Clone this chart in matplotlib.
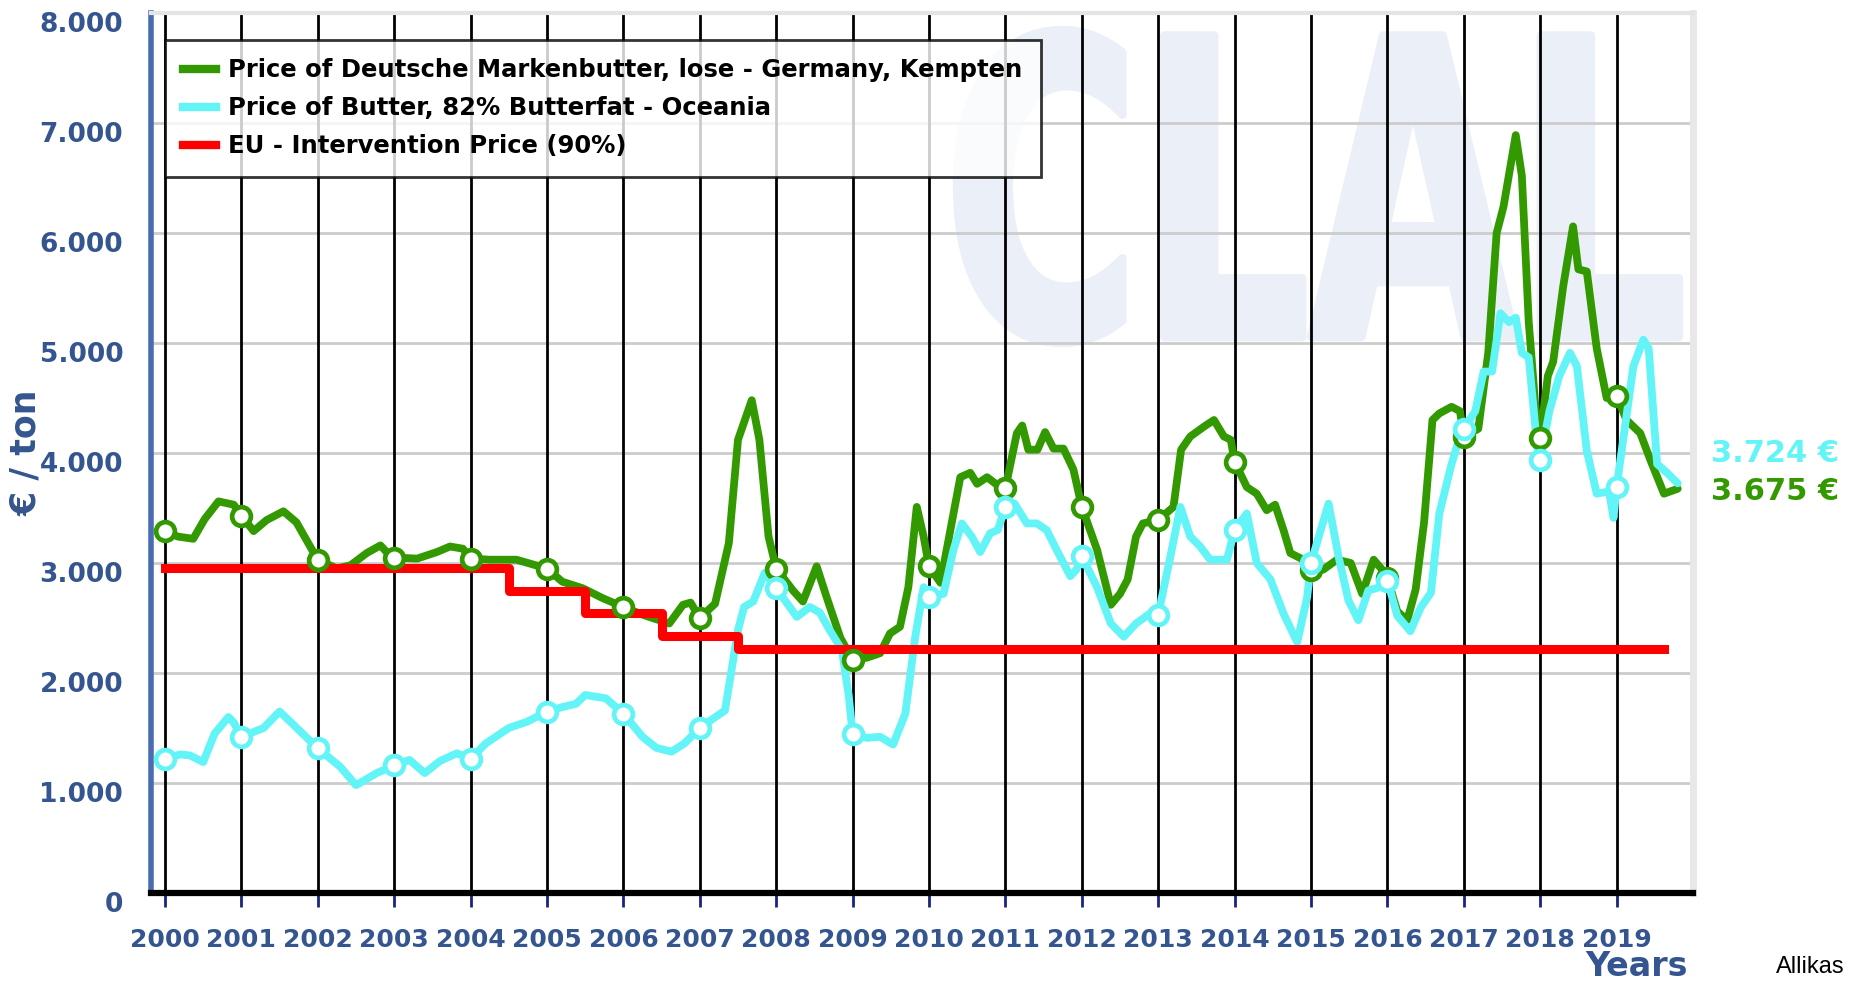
import matplotlib
matplotlib.use('Agg')
import matplotlib.pyplot as plt
import numpy as np
from matplotlib.lines import Line2D
from matplotlib.textpath import TextPath
from matplotlib.patches import PathPatch
from matplotlib.font_manager import FontProperties
from matplotlib.transforms import Affine2D, ScaledTranslation

# ---------------- data ----------------
years = list(range(2000, 2020))

green_t = [2000.0, 2000.17, 2000.37, 2000.52, 2000.7, 2000.9, 2001.0, 2001.16, 2001.33, 2001.55,
           2001.72, 2001.9, 2002.0, 2002.25, 2002.43, 2002.64, 2002.82, 2002.9, 2003.0, 2003.3,
           2003.56, 2003.73, 2003.9, 2004.0, 2004.25, 2004.6, 2004.8, 2005.0, 2005.2, 2005.47,
           2005.73, 2006.0, 2006.25, 2006.6, 2006.78, 2006.88, 2007.0, 2007.2, 2007.38, 2007.5,
           2007.68, 2007.78, 2007.9, 2008.0, 2008.22, 2008.35, 2008.53, 2008.66, 2008.84, 2009.0,
           2009.19, 2009.36, 2009.49, 2009.62, 2009.73, 2009.84, 2009.93, 2010.0, 2010.15, 2010.28,
           2010.41, 2010.54, 2010.63, 2010.76, 2010.93, 2011.0, 2011.15, 2011.22, 2011.30, 2011.42,
           2011.52, 2011.63, 2011.76, 2011.89, 2012.0, 2012.2, 2012.38, 2012.5, 2012.6, 2012.71,
           2012.8, 2013.0, 2013.2, 2013.3, 2013.42, 2013.6, 2013.73, 2013.86, 2013.95, 2014.0,
           2014.16, 2014.29, 2014.42, 2014.53, 2014.64, 2014.73, 2014.9, 2015.0, 2015.16, 2015.34,
           2015.52, 2015.67, 2015.82, 2015.93, 2016.0, 2016.13, 2016.26, 2016.37, 2016.48, 2016.59,
           2016.68, 2016.84, 2016.95, 2017.0, 2017.19, 2017.32, 2017.43, 2017.52, 2017.68, 2017.76,
           2017.85, 2017.96, 2018.0, 2018.1, 2018.17, 2018.3, 2018.43, 2018.5, 2018.61, 2018.74,
           2018.87, 2019.0, 2019.13, 2019.31, 2019.44, 2019.62, 2019.8]
green_v = [3290, 3240, 3220, 3400, 3560, 3530, 3430, 3290, 3390, 3470,
           3370, 3150, 3030, 2950, 2980, 3090, 3160, 3100, 3050, 3040,
           3100, 3150, 3130, 3040, 3030, 3030, 2990, 2950, 2830, 2770,
           2680, 2600, 2530, 2450, 2620, 2640, 2500, 2630, 3180, 4120,
           4480, 4120, 3240, 2950, 2750, 2650, 2970, 2690, 2320, 2120,
           2140, 2180, 2360, 2420, 2780, 3510, 3240, 2970, 2820, 3300,
           3780, 3820, 3720, 3780, 3690, 3680, 4180, 4250, 4030, 4030,
           4190, 4040, 4040, 3850, 3510, 3120, 2620, 2720, 2850, 3240,
           3360, 3390, 3510, 4030, 4150, 4240, 4300, 4150, 4120, 3920,
           3690, 3630, 3480, 3530, 3300, 3090, 3030, 2940, 2940, 3030,
           3000, 2720, 3030, 2940, 2860, 2560, 2480, 2760, 3370, 4300,
           4360, 4420, 4380, 4150, 4220, 4910, 6000, 6240, 6890, 6520,
           5190, 4220, 4140, 4700, 4830, 5510, 6060, 5670, 5650, 4950,
           4500, 4520, 4300, 4180, 3940, 3630, 3675]

cyan_t = [2000.0, 2000.2, 2000.33, 2000.5, 2000.65, 2000.83, 2000.9, 2001.0, 2001.29, 2001.5,
          2001.77, 2002.0, 2002.29, 2002.5, 2002.77, 2003.0, 2003.2, 2003.4, 2003.6, 2003.82,
          2004.0, 2004.2, 2004.5, 2004.75, 2005.0, 2005.2, 2005.38, 2005.5, 2005.77, 2006.0,
          2006.25, 2006.43, 2006.63, 2006.8, 2007.0, 2007.33, 2007.5, 2007.58, 2007.7, 2007.85,
          2008.0, 2008.27, 2008.44, 2008.57, 2008.7, 2008.86, 2008.95, 2009.0, 2009.19, 2009.36,
          2009.53, 2009.69, 2009.82, 2009.93, 2010.0, 2010.19, 2010.32, 2010.43, 2010.56, 2010.67,
          2010.8, 2010.9, 2011.0, 2011.12, 2011.28, 2011.41, 2011.54, 2011.67, 2011.85, 2011.93,
          2012.0, 2012.2, 2012.38, 2012.55, 2012.71, 2012.89, 2013.0, 2013.16, 2013.29, 2013.42,
          2013.55, 2013.68, 2013.9, 2014.0, 2014.16, 2014.29, 2014.47, 2014.64, 2014.82, 2014.95,
          2015.0, 2015.23, 2015.36, 2015.49, 2015.62, 2015.75, 2015.9, 2016.0, 2016.13, 2016.3,
          2016.44, 2016.57, 2016.68, 2016.84, 2016.97, 2017.0, 2017.15, 2017.26, 2017.37, 2017.48,
          2017.59, 2017.68, 2017.76, 2017.85, 2017.96, 2018.0, 2018.12, 2018.25, 2018.39, 2018.48,
          2018.61, 2018.74, 2018.9, 2018.96, 2019.0, 2019.22, 2019.35, 2019.42, 2019.53, 2019.66,
          2019.8]
cyan_v = [1220, 1260, 1250, 1190, 1450, 1600, 1550, 1420, 1500, 1650,
          1470, 1315, 1150, 980, 1090, 1160, 1210, 1090, 1200, 1270,
          1220, 1360, 1500, 1560, 1650, 1690, 1720, 1800, 1770, 1630,
          1420, 1320, 1285, 1360, 1500, 1660, 2390, 2600, 2650, 2910,
          2770, 2510, 2600, 2550, 2390, 2210, 1790, 1450, 1410, 1420,
          1350, 1630, 2330, 2780, 2690, 2720, 3120, 3360, 3240, 3100,
          3270, 3300, 3510, 3540, 3360, 3360, 3300, 3120, 2880, 2940,
          3060, 2780, 2450, 2330, 2450, 2540, 2530, 3060, 3510, 3240,
          3150, 3030, 3030, 3300, 3450, 3000, 2850, 2540, 2280, 2690,
          3000, 3540, 3060, 2660, 2480, 2750, 2780, 2840, 2520, 2380,
          2600, 2730, 3450, 3900, 4200, 4220, 4380, 4740, 4740, 5270,
          5190, 5230, 4910, 4870, 4060, 3940, 4380, 4700, 4910, 4790,
          4020, 3630, 3650, 3410, 3690, 4790, 5030, 4950, 3900, 3820,
          3724]

red_t = [2000.0, 2004.5, 2005.5, 2006.5, 2007.5, 2019.62]
red_v = [2954, 2747, 2542, 2338, 2218, 2218]

labels = ["Price of Deutsche Markenbutter, lose - Germany, Kempten",
          "Price of Butter, 82% Butterfat - Oceania",
          "EU - Intervention Price (90%)"]
last_labels = ["3.724 €", "3.675 €"]

# ---------------- style ----------------
GREEN = '#339900'
CYAN = '#62f4f7'
RED = '#ff0000'
LBL = '#34558f'

W, H = 1854, 981
fig = plt.figure(figsize=(W / 100, H / 100), dpi=100)
x0, x1, ytop, ybot = 151, 1693, 13, 893
ax = fig.add_axes([x0 / W, 1 - ybot / H, (x1 - x0) / W, (ybot - ytop) / H])
ax.set_xlim(1999.817, 2020.0)
ax.set_ylim(0, 8000)

# watermark
fp = FontProperties(family='DejaVu Sans', weight='bold')
tp = TextPath((0, 0), "CLAL", prop=fp)
bb = tp.get_extents()
wx0, wx1, wy0, wy1 = 957 / W, 1679 / W, 1 - 343 / H, 1 - 30 / H
tr = Affine2D().translate(-bb.x0, -bb.y0).scale((wx1 - wx0) / bb.width, (wy1 - wy0) / bb.height) \
    .translate(wx0, wy0) + fig.transFigure
ax.add_patch(PathPatch(tp, transform=tr, facecolor='#ebeff8', edgecolor='#ebeff8', lw=6,
                       joinstyle='round', zorder=0.2))

# grid
for v in range(1000, 8000, 1000):
    ax.axhline(v, color='#cccccc', lw=2, zorder=0.5)
for y in years:
    ax.axvline(y, color='black', lw=2, zorder=0.6)

# series
ax.plot(green_t, green_v, color=GREEN, lw=5.6, solid_joinstyle='round', solid_capstyle='round', zorder=3)
ax.plot(cyan_t, cyan_v, color=CYAN, lw=5.6, solid_joinstyle='round', solid_capstyle='round', zorder=3.2)
ax.step(red_t, red_v, where='post', color=RED, lw=6.5, zorder=3.4)

gt = np.array(green_t); gv = np.array(green_v)
ct = np.array(cyan_t); cv = np.array(cyan_v)
gm = np.isclose(gt, np.round(gt))
cm = np.isclose(ct, np.round(ct))
ax.plot(gt[gm], gv[gm], ls='none', marker='o', ms=13.5, mew=3.4, mfc='white', mec=GREEN, zorder=4)
ax.plot(ct[cm], cv[cm], ls='none', marker='o', ms=13.5, mew=3.4, mfc='white', mec=CYAN, zorder=4.2)

# spines
ax.spines['left'].set_color('#4a6cb0'); ax.spines['left'].set_linewidth(4)
ax.spines['bottom'].set_color('black'); ax.spines['bottom'].set_linewidth(4.5)
ax.spines['top'].set_color('#e4e4e4'); ax.spines['top'].set_linewidth(3)
ax.spines['right'].set_color('#e8e8e8'); ax.spines['right'].set_linewidth(5)

ax.set_xticks(years)
ax.set_xticklabels([str(y) for y in years])
ax.set_yticks(range(0, 8001, 1000))
ax.set_yticklabels([f"{v:,}".replace(',', '.') for v in range(0, 8001, 1000)])
ax.tick_params(axis='x', direction='out', length=10, width=2, color='#1a237e', pad=15,
               labelsize=18, labelcolor=LBL)
ax.tick_params(axis='y', length=0, pad=20, labelsize=19, labelcolor=LBL)
for t in ax.get_xticklabels() + ax.get_yticklabels():
    t.set_fontweight('bold')
off = ScaledTranslation(0, -6.5 / 72, fig.dpi_scale_trans)
for t in ax.get_yticklabels():
    t.set_transform(t.get_transform() + off)

# legend
handles = [Line2D([], [], color=c, lw=6) for c in (GREEN, CYAN, RED)]
leg = fig.legend(handles, labels, loc='upper left', bbox_to_anchor=(165 / W, 1 - 40 / H),
                 borderaxespad=0, frameon=True, fancybox=False, edgecolor='black',
                 prop={'weight': 'bold', 'size': 17.5}, handlelength=1.36, handletextpad=0.5,
                 labelspacing=0.58, borderpad=0.75)
leg.get_frame().set_linewidth(2)
leg.set_zorder(10)

# texts
fig.text(26 / W, 1 - 453 / H, "€ / ton", rotation=90, ha='center', va='center',
         fontsize=25, fontweight='bold', color=LBL)
fig.text(1637 / W, 1 - 967 / H, "Years", ha='center', va='center',
         fontsize=24, fontweight='bold', color=LBL)
fig.text(1711 / W, 1 - 453 / H, last_labels[0], ha='left', va='center',
         fontsize=22, fontweight='bold', color=CYAN)
fig.text(1711 / W, 1 - 491 / H, last_labels[1], ha='left', va='center',
         fontsize=22, fontweight='bold', color=GREEN)
fig.text(1776 / W, 1 - 967 / H, "Allikas", ha='left', va='center',
         fontsize=17, color='black', family=['Liberation Sans Narrow', 'Liberation Sans', 'DejaVu Sans'])

fig.savefig('out.png', dpi=100)
